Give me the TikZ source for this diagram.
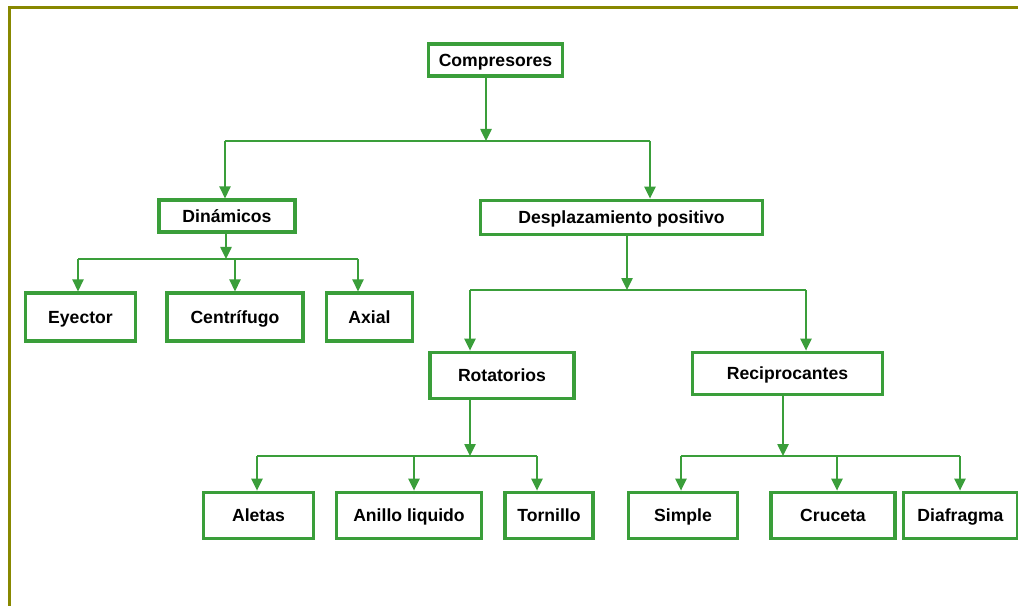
\documentclass[tikz,border=0pt]{standalone}
\usepackage{fontspec}
\setmainfont{Liberation Sans}
\usetikzlibrary{arrows.meta}
\definecolor{boxgreen}{RGB}{58,158,58}
\definecolor{framecol}{RGB}{136,136,0}
\tikzset{
  box/.style={draw=boxgreen, line width=2.4pt, fill=white, inner sep=0pt,
    text height=9.5pt, text depth=0pt,
    font=\fontsize{13.2}{15}\selectfont\bfseries},
  link/.style={draw=boxgreen, line width=1.1pt},
  arr/.style={link, -{Triangle[length=9pt, width=8.5pt]}}
}
\begin{document}
\begin{tikzpicture}[x=0.75pt, y=-0.75pt]
  \useasboundingbox (0,0) rectangle (1018,606);
  \fill[white] (0,0) rectangle (1018,606);

  % Marco
  \draw[framecol, line width=2.2pt] (9.5,606) -- (9.5,7.5) -- (1018,7.5);

  % Cajas
  \node[box, minimum width=101pt, minimum height=24pt] (comp) at (495.5,60) {Compresores};
  \node[box, minimum width=102pt, minimum height=24pt] (din) at (227,216) {Dinámicos};
  \node[box, minimum width=212pt, minimum height=26pt] (desp) at (621.5,217.5) {Desplazamiento positivo};
  \node[box, minimum width=83pt, minimum height=36pt] (eyec) at (80.5,317) {Eyector};
  \node[box, minimum width=102pt, minimum height=36pt] (cent) at (235,317) {Centrífugo};
  \node[box, minimum width=65pt, minimum height=36pt] (axial) at (369.5,317) {Axial};
  \node[box, minimum width=108pt, minimum height=35pt] (rot) at (502,375.5) {Rotatorios};
  \node[box, minimum width=143pt, minimum height=32pt] (recip) at (787.5,373.5) {Reciprocantes};
  \node[box, minimum width=83pt, minimum height=35pt] (alet) at (258.5,515.5) {Aletas};
  \node[box, minimum width=109pt, minimum height=35pt] (anillo) at (409,515.5) {Anillo liquido};
  \node[box, minimum width=66pt, minimum height=35pt] (torn) at (549,515.5) {Tornillo};
  \node[box, minimum width=82pt, minimum height=35pt] (simple) at (683,515.5) {Simple};
  \node[box, minimum width=93pt, minimum height=35pt] (cruc) at (833,515.5) {Cruceta};
  \node[box, minimum width=85pt, minimum height=35pt] (diaf) at (960.5,515.5) {Diafragma};

  % Uniones
  \coordinate (jcomp) at (486,141);
  \coordinate (jdin) at (226,259);
  \coordinate (jdesp) at (627,290);
  \coordinate (jrot) at (470,456);
  \coordinate (jrecip) at (783,456);

  % Compresores
  \draw[arr] (comp.south -| jcomp) -- (jcomp);
  \draw[link] (225,141) -- (650,141);
  \draw[arr] (225,141) -- (din.north -| 225,0);
  \draw[arr] (650,141) -- (desp.north -| 650,0);

  % Dinamicos
  \draw[arr] (din.south -| jdin) -- (jdin);
  \draw[link] (78,259) -- (358,259);
  \draw[arr] (78,259) -- (eyec.north -| 78,0);
  \draw[arr] (235,259) -- (cent.north -| 235,0);
  \draw[arr] (358,259) -- (axial.north -| 358,0);

  % Desplazamiento positivo
  \draw[arr] (desp.south -| jdesp) -- (jdesp);
  \draw[link] (470,290) -- (806,290);
  \draw[arr] (470,290) -- (rot.north -| 470,0);
  \draw[arr] (806,290) -- (recip.north -| 806,0);

  % Rotatorios
  \draw[arr] (rot.south -| jrot) -- (jrot);
  \draw[link] (257,456) -- (537,456);
  \draw[arr] (257,456) -- (alet.north -| 257,0);
  \draw[arr] (414,456) -- (anillo.north -| 414,0);
  \draw[arr] (537,456) -- (torn.north -| 537,0);

  % Reciprocantes
  \draw[arr] (recip.south -| jrecip) -- (jrecip);
  \draw[link] (681,456) -- (960,456);
  \draw[arr] (681,456) -- (simple.north -| 681,0);
  \draw[arr] (837,456) -- (cruc.north -| 837,0);
  \draw[arr] (960,456) -- (diaf.north -| 960,0);
\end{tikzpicture}
\end{document}
